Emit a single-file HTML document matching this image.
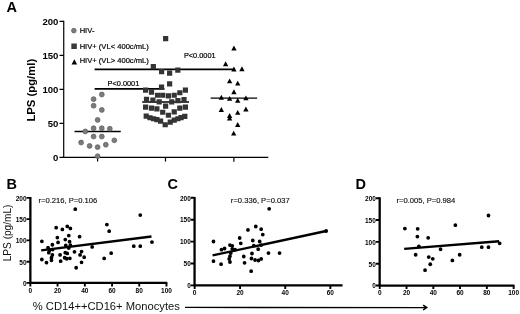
<!DOCTYPE html>
<html><head><meta charset="utf-8"><title>Figure</title>
<style>
html,body{margin:0;padding:0;background:#fff;}
body{width:520px;height:314px;overflow:hidden;}
svg{display:block;filter:blur(0.3px);font-family:"Liberation Sans",sans-serif;}
.b{font-weight:bold;}
</style></head><body>
<svg width="520" height="314" viewBox="0 0 520 314">
<rect width="520" height="314" fill="#fff"/>
<g transform="rotate(0.02 260 157)">

<g class="b" font-size="14.5" fill="#000">
<text x="6.4" y="12">A</text><text x="6.4" y="189">B</text><text x="167.6" y="189">C</text><text x="355.4" y="189">D</text></g>
<g stroke="#000" stroke-width="1.2" fill="none">
<path d="M63.7 20.849999999999987V157.45H268.3"/>
<path d="M59.5 157.4H63.7"/>
<path d="M59.5 123.4H63.7"/>
<path d="M59.5 89.4H63.7"/>
<path d="M59.5 55.4H63.7"/>
<path d="M59.5 21.4H63.7"/>
<path d="M97.6 157.45V161.64999999999998"/>
<path d="M165.5 157.45V161.64999999999998"/>
<path d="M233.9 157.45V161.64999999999998"/>
</g>
<g class="b" font-size="9.6" fill="#000" text-anchor="end">
<text x="58.4" y="160.9">0</text>
<text x="58.4" y="126.9">50</text>
<text x="58.4" y="92.9">100</text>
<text x="58.4" y="58.9">150</text>
<text x="58.4" y="24.9">200</text>
</g>
<text class="b" font-size="11.3" fill="#000" text-anchor="middle" transform="translate(35.2 90.3) rotate(-90)">LPS (pg/ml)</text>
<circle cx="73.8" cy="30.7" r="2.35" fill="#7b7b7b" stroke="#5a5a5a" stroke-width="0.7"/>
<rect x="71.3" y="43.6" width="5.5" height="5.4" fill="#3a3a3a"/>
<path d="M74.3 59.3L77.1 64.5H71.5Z" fill="#000"/>
<g font-size="7.6" fill="#000" stroke="#000" stroke-width="0.2"><text x="79.6" y="33.1">HIV-</text><text x="79.6" y="48.7">HIV+ (VL&lt; 400c/mL)</text><text x="79.6" y="63.4">HIV+ (VL&gt; 400c/mL)</text>
</g><g font-size="7.35" fill="#000" stroke="#000" stroke-width="0.2"><text x="107.6" y="85.6">P&lt;0.0001</text><text x="183.9" y="58.2">P&lt;0.0001</text></g>
<g stroke="#000" stroke-width="1.8"><path d="M94.6 88.9H164.4"/><path d="M94.6 69.4H234.2"/></g>
<g stroke="#000" stroke-width="1.4"><path d="M74.5 131.6H120.7"/><path d="M142.2 102H189"/><path d="M210.6 98.1H257.1"/></g>
<g fill="#7b7b7b" stroke="#5a5a5a" stroke-width="0.7">
<circle cx="101.8" cy="94.6" r="2.45"/>
<circle cx="93.6" cy="99.2" r="2.45"/>
<circle cx="93.6" cy="105.8" r="2.45"/>
<circle cx="101.8" cy="110.0" r="2.45"/>
<circle cx="97.6" cy="120.0" r="2.45"/>
<circle cx="93.6" cy="128.3" r="2.45"/>
<circle cx="101.8" cy="128.3" r="2.45"/>
<circle cx="109.8" cy="128.8" r="2.45"/>
<circle cx="85.3" cy="131.5" r="2.45"/>
<circle cx="93.6" cy="136.6" r="2.45"/>
<circle cx="101.8" cy="136.6" r="2.45"/>
<circle cx="114.3" cy="140.4" r="2.45"/>
<circle cx="81.1" cy="142.6" r="2.45"/>
<circle cx="105.8" cy="144.8" r="2.45"/>
<circle cx="89.6" cy="146.0" r="2.45"/>
<circle cx="97.6" cy="147.2" r="2.45"/>
<circle cx="97.6" cy="156.3" r="2.45"/>
</g><g fill="#343434">
<rect x="163.0" y="36.1" width="5.2" height="5.2"/>
<rect x="150.7" y="64.0" width="5.2" height="5.2"/>
<rect x="159.0" y="69.0" width="5.2" height="5.2"/>
<rect x="167.0" y="70.6" width="5.2" height="5.2"/>
<rect x="175.2" y="67.6" width="5.2" height="5.2"/>
<rect x="167.0" y="81.4" width="5.2" height="5.2"/>
<rect x="158.9" y="84.6" width="5.2" height="5.2"/>
<rect x="143.0" y="87.5" width="5.2" height="5.2"/>
<rect x="182.8" y="87.5" width="5.2" height="5.2"/>
<rect x="148.9" y="89.5" width="5.2" height="5.2"/>
<rect x="177.2" y="90.2" width="5.2" height="5.2"/>
<rect x="154.9" y="92.7" width="5.2" height="5.2"/>
<rect x="160.1" y="92.7" width="5.2" height="5.2"/>
<rect x="165.8" y="93.3" width="5.2" height="5.2"/>
<rect x="171.6" y="92.7" width="5.2" height="5.2"/>
<rect x="143.9" y="96.7" width="5.2" height="5.2"/>
<rect x="150.3" y="97.5" width="5.2" height="5.2"/>
<rect x="156.6" y="99.4" width="5.2" height="5.2"/>
<rect x="169.1" y="99.4" width="5.2" height="5.2"/>
<rect x="175.3" y="98.0" width="5.2" height="5.2"/>
<rect x="181.4" y="97.0" width="5.2" height="5.2"/>
<rect x="143.0" y="104.5" width="5.2" height="5.2"/>
<rect x="148.9" y="105.5" width="5.2" height="5.2"/>
<rect x="154.3" y="106.4" width="5.2" height="5.2"/>
<rect x="163.0" y="103.6" width="5.2" height="5.2"/>
<rect x="177.2" y="105.5" width="5.2" height="5.2"/>
<rect x="182.8" y="104.5" width="5.2" height="5.2"/>
<rect x="160.1" y="109.7" width="5.2" height="5.2"/>
<rect x="171.6" y="109.4" width="5.2" height="5.2"/>
<rect x="165.8" y="112.7" width="5.2" height="5.2"/>
<rect x="143.6" y="113.6" width="5.2" height="5.2"/>
<rect x="147.4" y="115.2" width="5.2" height="5.2"/>
<rect x="150.9" y="116.2" width="5.2" height="5.2"/>
<rect x="154.3" y="117.1" width="5.2" height="5.2"/>
<rect x="158.0" y="118.5" width="5.2" height="5.2"/>
<rect x="162.6" y="122.2" width="5.2" height="5.2"/>
<rect x="167.6" y="119.6" width="5.2" height="5.2"/>
<rect x="171.6" y="117.5" width="5.2" height="5.2"/>
<rect x="175.3" y="116.2" width="5.2" height="5.2"/>
<rect x="178.5" y="115.0" width="5.2" height="5.2"/>
<rect x="182.2" y="113.9" width="5.2" height="5.2"/>
</g><g fill="#000">
<path d="M233.9 45.6l2.65 4.9h-5.3z"/>
<path d="M225.6 61.3l2.65 4.9h-5.3z"/>
<path d="M233.9 66.6l2.65 4.9h-5.3z"/>
<path d="M241.9 66.3l2.65 4.9h-5.3z"/>
<path d="M229.6 78.4l2.65 4.9h-5.3z"/>
<path d="M237.7 80.7l2.65 4.9h-5.3z"/>
<path d="M233.9 89.3l2.65 4.9h-5.3z"/>
<path d="M221.3 94.8l2.65 4.9h-5.3z"/>
<path d="M229.6 95.9l2.65 4.9h-5.3z"/>
<path d="M237.7 97.8l2.65 4.9h-5.3z"/>
<path d="M245.9 95.4l2.65 4.9h-5.3z"/>
<path d="M221.3 107.0l2.65 4.9h-5.3z"/>
<path d="M245.9 106.6l2.65 4.9h-5.3z"/>
<path d="M237.7 109.9l2.65 4.9h-5.3z"/>
<path d="M229.6 113.1l2.65 4.9h-5.3z"/>
<path d="M229.6 115.6l2.65 4.9h-5.3z"/>
<path d="M237.7 122.1l2.65 4.9h-5.3z"/>
<path d="M233.7 130.7l2.65 4.9h-5.3z"/>
</g>
<g stroke="#000" stroke-width="2.3" fill="none"><path d="M30.4 197.1V283H167.4"/></g>
<g stroke="#000" stroke-width="1.9" fill="none">
<path d="M26.599999999999998 283.0H30.4"/>
<path d="M26.599999999999998 261.8H30.4"/>
<path d="M26.599999999999998 240.5H30.4"/>
<path d="M26.599999999999998 219.2H30.4"/>
<path d="M26.599999999999998 198.0H30.4"/>
<path d="M30.4 283V286.5"/>
<path d="M57.6 283V286.5"/>
<path d="M84.9 283V286.5"/>
<path d="M112.1 283V286.5"/>
<path d="M139.3 283V286.5"/>
<path d="M166.5 283V286.5"/>
</g>
<g class="b" font-size="6.5" fill="#000" text-anchor="end">
<text x="26.6" y="285.8">0</text>
<text x="26.6" y="264.6">50</text>
<text x="26.6" y="243.3">100</text>
<text x="26.6" y="222.1">150</text>
<text x="26.6" y="200.8">200</text>
</g><g class="b" font-size="6.5" fill="#000" text-anchor="middle">
<text x="30.4" y="292.8">0</text>
<text x="57.6" y="292.8">20</text>
<text x="84.9" y="292.8">40</text>
<text x="112.1" y="292.8">60</text>
<text x="139.3" y="292.8">80</text>
<text x="166.5" y="292.8">100</text>
</g>
<g fill="#000">
<circle cx="75.3" cy="209.2" r="1.9"/>
<circle cx="56.2" cy="227.7" r="1.9"/>
<circle cx="62.4" cy="229.5" r="1.9"/>
<circle cx="67.3" cy="226.5" r="1.9"/>
<circle cx="70.4" cy="228.5" r="1.9"/>
<circle cx="68.8" cy="235.6" r="1.9"/>
<circle cx="57.4" cy="237.6" r="1.9"/>
<circle cx="79.6" cy="236.7" r="1.9"/>
<circle cx="65.3" cy="239.6" r="1.9"/>
<circle cx="41.9" cy="241.4" r="1.9"/>
<circle cx="58.1" cy="242.5" r="1.9"/>
<circle cx="69.6" cy="241.7" r="1.9"/>
<circle cx="52.4" cy="244.8" r="1.9"/>
<circle cx="65.8" cy="245.4" r="1.9"/>
<circle cx="70.4" cy="245.3" r="1.9"/>
<circle cx="48.1" cy="247.8" r="1.9"/>
<circle cx="92.2" cy="247.0" r="1.9"/>
<circle cx="49.6" cy="250.4" r="1.9"/>
<circle cx="52.7" cy="249.6" r="1.9"/>
<circle cx="68.8" cy="248.1" r="1.9"/>
<circle cx="48.8" cy="252.7" r="1.9"/>
<circle cx="65.3" cy="252.7" r="1.9"/>
<circle cx="67.3" cy="253.5" r="1.9"/>
<circle cx="74.5" cy="251.9" r="1.9"/>
<circle cx="81.6" cy="251.6" r="1.9"/>
<circle cx="52.4" cy="255" r="1.9"/>
<circle cx="60.1" cy="255" r="1.9"/>
<circle cx="80.1" cy="255" r="1.9"/>
<circle cx="84.2" cy="257.3" r="1.9"/>
<circle cx="51.5" cy="257.8" r="1.9"/>
<circle cx="64.7" cy="257.8" r="1.9"/>
<circle cx="66.8" cy="258.8" r="1.9"/>
<circle cx="69.9" cy="258.4" r="1.9"/>
<circle cx="41.9" cy="259.6" r="1.9"/>
<circle cx="51.5" cy="260.4" r="1.9"/>
<circle cx="60.7" cy="261.2" r="1.9"/>
<circle cx="46.5" cy="262.7" r="1.9"/>
<circle cx="81.6" cy="262.4" r="1.9"/>
<circle cx="76.2" cy="267.8" r="1.9"/>
<circle cx="104.2" cy="258.5" r="1.9"/>
<circle cx="140.3" cy="215.1" r="1.9"/>
<circle cx="106.9" cy="224.6" r="1.9"/>
<circle cx="109.2" cy="231.2" r="1.9"/>
<circle cx="152" cy="242.1" r="1.9"/>
<circle cx="133.8" cy="246.2" r="1.9"/>
<circle cx="140.3" cy="246.2" r="1.9"/>
<circle cx="111.2" cy="253.2" r="1.9"/>
</g>
<path d="M41.2 250.4L151.5 236.5" stroke="#000" stroke-width="2.4" stroke-linecap="butt"/>
<text font-size="7.62" fill="#111" stroke="#111" stroke-width="0.15" x="38.5" y="203.4">r=0.216, P=0.106</text>
<g stroke="#000" stroke-width="2.3" fill="none"><path d="M194.6 196.9V285.4H342.6"/></g>
<g stroke="#000" stroke-width="1.9" fill="none">
<path d="M190.79999999999998 285.4H194.6"/>
<path d="M190.79999999999998 263.5H194.6"/>
<path d="M190.79999999999998 241.6H194.6"/>
<path d="M190.79999999999998 219.7H194.6"/>
<path d="M190.79999999999998 197.8H194.6"/>
<path d="M194.7 285.4V288.9"/>
<path d="M240.1 285.4V288.9"/>
<path d="M285.3 285.4V288.9"/>
<path d="M330.4 285.4V288.9"/>
</g>
<g class="b" font-size="6.5" fill="#000" text-anchor="end">
<text x="190.8" y="288.2">0</text>
<text x="190.8" y="266.3">50</text>
<text x="190.8" y="244.4">100</text>
<text x="190.8" y="222.5">150</text>
<text x="190.8" y="200.6">200</text>
</g><g class="b" font-size="6.5" fill="#000" text-anchor="middle">
<text x="194.7" y="295.2">0</text>
<text x="240.1" y="295.2">20</text>
<text x="285.3" y="295.2">40</text>
<text x="330.4" y="295.2">60</text>
</g>
<g fill="#000">
<circle cx="269.2" cy="208.8" r="1.9"/>
<circle cx="255.8" cy="226.5" r="1.9"/>
<circle cx="248" cy="229.9" r="1.9"/>
<circle cx="261.2" cy="229.2" r="1.9"/>
<circle cx="262.8" cy="234.6" r="1.9"/>
<circle cx="239.7" cy="238" r="1.9"/>
<circle cx="252.8" cy="240.5" r="1.9"/>
<circle cx="259.7" cy="241.5" r="1.9"/>
<circle cx="213.5" cy="241.5" r="1.9"/>
<circle cx="240.8" cy="243.3" r="1.9"/>
<circle cx="230" cy="245.1" r="1.9"/>
<circle cx="232.3" cy="245.8" r="1.9"/>
<circle cx="253.8" cy="245.7" r="1.9"/>
<circle cx="261.2" cy="245.1" r="1.9"/>
<circle cx="224.6" cy="248.5" r="1.9"/>
<circle cx="221.5" cy="249.7" r="1.9"/>
<circle cx="232.3" cy="248.8" r="1.9"/>
<circle cx="235.1" cy="249.7" r="1.9"/>
<circle cx="258.2" cy="249.2" r="1.9"/>
<circle cx="230.8" cy="253.1" r="1.9"/>
<circle cx="252" cy="253.5" r="1.9"/>
<circle cx="268.5" cy="253.1" r="1.9"/>
<circle cx="279.6" cy="253.1" r="1.9"/>
<circle cx="230" cy="256.2" r="1.9"/>
<circle cx="243.8" cy="256.5" r="1.9"/>
<circle cx="229.2" cy="258.9" r="1.9"/>
<circle cx="251.5" cy="258.5" r="1.9"/>
<circle cx="255.1" cy="260" r="1.9"/>
<circle cx="258.5" cy="260.5" r="1.9"/>
<circle cx="261.2" cy="258.9" r="1.9"/>
<circle cx="213.5" cy="261.2" r="1.9"/>
<circle cx="230" cy="262" r="1.9"/>
<circle cx="244.6" cy="262.8" r="1.9"/>
<circle cx="221.1" cy="264.2" r="1.9"/>
<circle cx="251.2" cy="271.2" r="1.9"/>
<circle cx="326.2" cy="231.0" r="1.9"/>
</g>
<path d="M212.6 255.4L326.2 231.0" stroke="#000" stroke-width="2.4" stroke-linecap="butt"/>
<text font-size="7.62" fill="#111" stroke="#111" stroke-width="0.15" x="230.9" y="203.4">r=0.336, P=0.037</text>
<g stroke="#000" stroke-width="2.3" fill="none"><path d="M379.7 197.29999999999998V285.5H514.5"/></g>
<g stroke="#000" stroke-width="1.9" fill="none">
<path d="M375.9 285.5H379.7"/>
<path d="M375.9 263.7H379.7"/>
<path d="M375.9 241.8H379.7"/>
<path d="M375.9 220.0H379.7"/>
<path d="M375.9 198.2H379.7"/>
<path d="M379.8 285.5V289.0"/>
<path d="M406.6 285.5V289.0"/>
<path d="M433.4 285.5V289.0"/>
<path d="M460.1 285.5V289.0"/>
<path d="M486.9 285.5V289.0"/>
<path d="M513.7 285.5V289.0"/>
</g>
<g class="b" font-size="6.5" fill="#000" text-anchor="end">
<text x="375.9" y="288.3">0</text>
<text x="375.9" y="266.5">50</text>
<text x="375.9" y="244.7">100</text>
<text x="375.9" y="222.8">150</text>
<text x="375.9" y="201.0">200</text>
</g><g class="b" font-size="6.5" fill="#000" text-anchor="middle">
<text x="379.8" y="295.3">0</text>
<text x="406.6" y="295.3">20</text>
<text x="433.4" y="295.3">40</text>
<text x="460.1" y="295.3">60</text>
<text x="486.9" y="295.3">80</text>
<text x="513.7" y="295.3">100</text>
</g>
<g fill="#000">
<circle cx="404.9" cy="228.5" r="1.9"/>
<circle cx="417.7" cy="228.8" r="1.9"/>
<circle cx="417.4" cy="236.5" r="1.9"/>
<circle cx="428.2" cy="237.8" r="1.9"/>
<circle cx="455.4" cy="225.1" r="1.9"/>
<circle cx="418.9" cy="246.4" r="1.9"/>
<circle cx="440.6" cy="249.2" r="1.9"/>
<circle cx="415.7" cy="254.7" r="1.9"/>
<circle cx="428.8" cy="257" r="1.9"/>
<circle cx="432.8" cy="258.8" r="1.9"/>
<circle cx="459.7" cy="254.7" r="1.9"/>
<circle cx="452.4" cy="260.4" r="1.9"/>
<circle cx="430.3" cy="264.2" r="1.9"/>
<circle cx="425.1" cy="270.1" r="1.9"/>
<circle cx="488.5" cy="215.4" r="1.9"/>
<circle cx="499.7" cy="243.2" r="1.9"/>
<circle cx="481.8" cy="247.1" r="1.9"/>
<circle cx="488.5" cy="247.1" r="1.9"/>
</g>
<path d="M404.2 248.8L499.2 241.2" stroke="#000" stroke-width="2.4" stroke-linecap="butt"/>
<text font-size="7.62" fill="#111" stroke="#111" stroke-width="0.15" x="396.5" y="203.4">r=0.005, P=0.984</text>
<text font-size="10.1" fill="#111" text-anchor="middle" transform="translate(11.2 233) rotate(-90)">LPS (pg/mL)</text>
<text font-size="11.2" fill="#111" x="32.8" y="310">% CD14++CD16+ Monocytes</text>
<g stroke="#000" fill="none"><path stroke-width="1.3" d="M185 307.5H426.6"/><path stroke-width="1.5" d="M423.2 305.1L426.8 307.5L423.2 309.9"/></g>
</g></svg></body></html>
